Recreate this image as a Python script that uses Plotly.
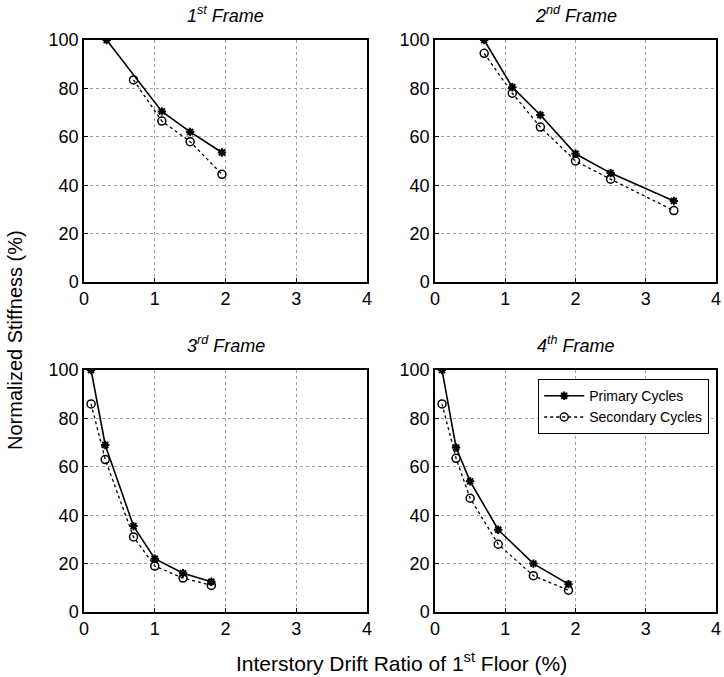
import plotly.graph_objects as go

# Data
f1_px = [0.32, 1.1, 1.5, 1.95]
f1_py = [100, 70.5, 62, 53.5]
f1_sx = [0.7, 1.1, 1.5, 1.95]
f1_sy = [83.5, 66.5, 58, 44.5]

f2_px = [0.7, 1.1, 1.5, 2.0, 2.5, 3.4]
f2_py = [100, 80.5, 69, 53, 45, 33.5]
f2_sx = [0.7, 1.1, 1.5, 2.0, 2.5, 3.4]
f2_sy = [94.5, 78, 64, 50, 42.5, 29.5]

f3_px = [0.1, 0.3, 0.7, 1.0, 1.4, 1.8]
f3_py = [100, 69, 35.5, 22, 16, 12.5]
f3_sx = [0.1, 0.3, 0.7, 1.0, 1.4, 1.8]
f3_sy = [86, 63, 31, 19, 14, 11]

f4_px = [0.1, 0.3, 0.5, 0.9, 1.4, 1.9]
f4_py = [100, 68, 54, 34, 20, 11.5]
f4_sx = [0.1, 0.3, 0.5, 0.9, 1.4, 1.9]
f4_sy = [86, 63.5, 47, 28, 15, 9]

titles = ["<i>1<sup>st</sup> Frame</i>", "<i>2<sup>nd</sup> Frame</i>",
          "<i>3<sup>rd</sup> Frame</i>", "<i>4<sup>th</sup> Frame</i>"]
x_ticks = [0, 1, 2, 3, 4]
y_ticks = [0, 20, 40, 60, 80, 100]

W, H = 724, 677
panels = [
    (f1_px, f1_py, f1_sx, f1_sy, (84, 367), (40, 282)),
    (f2_px, f2_py, f2_sx, f2_sy, (435, 716), (40, 282)),
    (f3_px, f3_py, f3_sx, f3_sy, (84, 367), (370, 612)),
    (f4_px, f4_py, f4_sx, f4_sy, (435, 716), (370, 612)),
]

fig = go.Figure()
FONT = "Liberation Sans, Arial, sans-serif"
annotations = []
for i, (px, py, sx, sy, (x0, x1), (y0, y1)) in enumerate(panels):
    n = "" if i == 0 else str(i + 1)
    xa = "x" + n
    ya = "y" + n
    fig.add_trace(go.Scatter(
        x=px, y=py, xaxis=xa, yaxis=ya, mode="lines+markers",
        name="Primary Cycles", showlegend=(i == 3),
        line=dict(color="black", width=1.6),
        marker=dict(symbol="asterisk-open", size=7, color="black",
                    line=dict(color="black", width=2)),
    ))
    fig.add_trace(go.Scatter(
        x=sx, y=sy, xaxis=xa, yaxis=ya, mode="lines+markers",
        name="Secondary Cycles", showlegend=(i == 3),
        line=dict(color="black", width=1.3, dash="dot"),
        marker=dict(symbol="circle-open", size=8, color="black",
                    line=dict(color="black", width=1.5)),
    ))
    axis_common = dict(
        showline=True, linecolor="black", linewidth=1.5, mirror=True,
        showgrid=True, gridcolor="#a0a0a0", griddash="dot", gridwidth=1,
        zeroline=False, ticks="inside", ticklen=4, tickcolor="black",
        automargin=False,
        tickfont=dict(family=FONT, size=18, color="black"),
    )
    fig.layout["xaxis" + n] = dict(
        domain=[x0 / W, x1 / W], range=[0, 4], tickvals=x_ticks,
        anchor=ya, **axis_common)
    fig.layout["yaxis" + n] = dict(
        domain=[1 - y1 / H, 1 - y0 / H], range=[0, 100], tickvals=y_ticks,
        anchor=xa, **axis_common)
    annotations.append(dict(
        text=titles[i], x=(x0 + x1) / 2 / W, y=1 - (y0 - 12) / H,
        xref="paper", yref="paper", xanchor="center", yanchor="bottom",
        showarrow=False, font=dict(family=FONT, size=18, color="black")))

annotations.append(dict(
    text="Normalized Stiffness (%)", x=15 / W, y=1 - 340 / H,
    xref="paper", yref="paper", textangle=-90, showarrow=False,
    xanchor="center", yanchor="middle",
    font=dict(family=FONT, size=20, color="black")))
annotations.append(dict(
    text="Interstory Drift Ratio of 1<sup>st</sup> Floor (%)",
    x=401 / W, y=1 - 662 / H, xref="paper", yref="paper",
    showarrow=False, xanchor="center", yanchor="middle",
    font=dict(family=FONT, size=21, color="black")))

fig.update_layout(
    width=W, height=H,
    margin=dict(l=0, r=0, t=0, b=0, autoexpand=False),
    paper_bgcolor="white", plot_bgcolor="white",
    annotations=annotations,
    legend=dict(x=709 / W, y=1 - 379 / H, xanchor="right", yanchor="top",
                bordercolor="black", borderwidth=1.2, bgcolor="white",
                font=dict(family=FONT, size=14, color="black"),
                tracegroupgap=0, itemwidth=40),
)

fig.write_html("out.html",
               config={"displayModeBar": False},
               post_script="document.body.style.margin='0';"
                           "document.body.style.overflow='hidden';")
